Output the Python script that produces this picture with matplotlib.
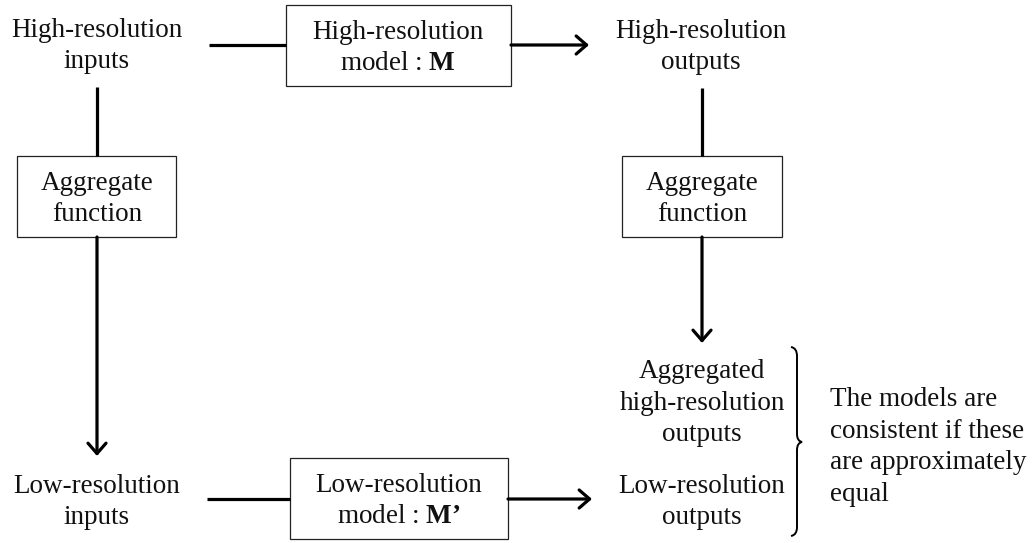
import matplotlib
matplotlib.use('Agg')
from matplotlib import pyplot as plt
from matplotlib.patches import Rectangle, PathPatch
from matplotlib.path import Path

# texts of the diagram
corner_labels = ['High-resolution\ninputs', 'High-resolution\noutputs',
                 'Low-resolution\ninputs', 'Low-resolution\noutputs']
agg_label = 'Aggregated\nhigh-resolution\noutputs'
model_labels = ['High-resolution\nmodel : $\\mathbf{M}$',
                'Low-resolution\nmodel : $\\mathbf{M\u2019}$']
func_label = 'Aggregate\nfunction'
note_label = 'The models are\nconsistent if these\nare approximately\nequal'

plt.rcParams.update({'font.family': 'Liberation Serif',
                     'mathtext.fontset': 'custom',
                     'mathtext.rm': 'Liberation Serif',
                     'mathtext.bf': 'Liberation Serif:bold'})

fig = plt.figure(figsize=(10.33, 5.43), dpi=100)
ax = fig.add_axes([0, 0, 1, 1])
ax.set_xlim(0, 1033)
ax.set_ylim(543, 0)
ax.axis('off')

fs = 19.5
txt = dict(ha='center', va='center', fontsize=fs, linespacing=1.36, color='#111111')
thick = dict(color='black', lw=2.3, solid_capstyle='butt')
arr = dict(arrowstyle='->,head_length=0.75,head_width=0.65', lw=2.3, color='black',
           shrinkA=0, shrinkB=0)

def box(x0, y0, x1, y1):
    ax.add_patch(Rectangle((x0, y0), x1 - x0, y1 - y0, fill=False, lw=0.9, ec='#222222'))

# corner nodes
ax.text(97, 46, corner_labels[0], **txt)
ax.text(701, 47, corner_labels[1], **txt)
ax.text(97, 502, corner_labels[2], **txt)
ax.text(702, 502, corner_labels[3], **txt)
ax.text(702, 403, agg_label, **txt)

# model boxes
box(286, 5, 511, 86)
ax.text(398, 48, model_labels[0], **txt)
box(290, 458, 508, 539)
ax.text(399, 501, model_labels[1], **txt)

# aggregate function boxes
box(17, 156, 176, 237)
ax.text(97, 199, func_label, **txt)
box(622, 156, 782, 237)
ax.text(702, 199, func_label, **txt)

# top row
ax.plot([209, 286], [45, 45], **thick)
ax.annotate('', xy=(589, 45), xytext=(511, 45), arrowprops=arr)
# bottom row
ax.plot([207, 290], [499, 499], **thick)
ax.annotate('', xy=(592, 499), xytext=(508, 499), arrowprops=arr)
# left column
ax.plot([97, 97], [87, 156], **thick)
ax.annotate('', xy=(97, 456), xytext=(97, 237), arrowprops=arr)
# right column
ax.plot([702, 702], [88, 156], **thick)
ax.annotate('', xy=(702, 343), xytext=(702, 237), arrowprops=arr)

# brace
verts = [(791, 347), (797, 348), (797, 356),
         (797, 434),
         (797, 441), (802, 442),
         (797, 443), (797, 450),
         (797, 527),
         (797, 535), (791, 536)]
codes = [Path.MOVETO, Path.CURVE3, Path.CURVE3,
         Path.LINETO,
         Path.CURVE3, Path.CURVE3,
         Path.CURVE3, Path.CURVE3,
         Path.LINETO,
         Path.CURVE3, Path.CURVE3]
ax.add_patch(PathPatch(Path(verts, codes), fill=False, lw=1.4, ec='black'))

ax.text(830, 447, note_label, ha='left', va='center', fontsize=fs,
        linespacing=1.36, color='#111111')

plt.savefig('out.png', dpi=100)
